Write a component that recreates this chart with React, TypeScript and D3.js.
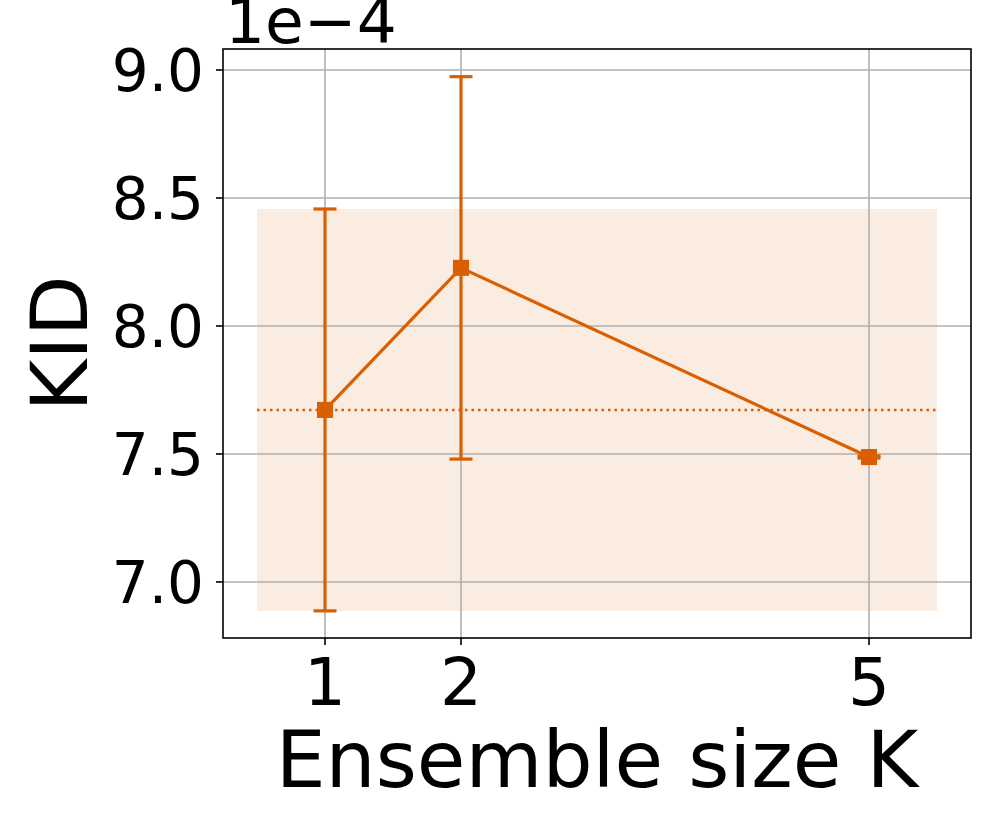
import React from "react";
import * as d3 from "d3";

const ensembleK = [1, 2, 5];
const kidMean = [7.672, 8.227, 7.488];
const kidErr = [0.785, 0.747, 0.004];
const yTicks = [7.0, 7.5, 8.0, 8.5, 9.0];
const xTicks = [1, 2, 5];
const bandRange = [0.5, 5.5];

const COLOR = "#d95f02";
const FONT = "DejaVu Sans, sans-serif";

export default function App() {
  const W = 996, H = 830;
  const left = 223, right = 971, top = 49, bottom = 638;
  const x = d3.scaleLinear().domain([0.25, 5.75]).range([left, right]);
  const y = d3.scaleLinear().domain([6.781, 9.082]).range([bottom, top]);

  const line = d3.line<number>()
    .x((_, i) => x(ensembleK[i]))
    .y((d) => y(d));

  const baseMean = kidMean[0];
  const baseErr = kidErr[0];
  const capHalf = 11.5;
  const ms = 16;

  return (
    <svg width={W} height={H} style={{ position: "absolute", left: 0, top: 0, background: "#fff" }}>
      <rect x={0} y={0} width={W} height={H} fill="#fff" />
      <rect
        x={x(bandRange[0])}
        y={y(baseMean + baseErr)}
        width={x(bandRange[1]) - x(bandRange[0])}
        height={y(baseMean - baseErr) - y(baseMean + baseErr)}
        fill={COLOR}
        fillOpacity={0.12}
      />
      {xTicks.map((t) => (
        <line key={"gx" + t} x1={x(t)} x2={x(t)} y1={top} y2={bottom} stroke="#b0b0b0" strokeWidth={1.6} />
      ))}
      {yTicks.map((t) => (
        <line key={"gy" + t} x1={left} x2={right} y1={y(t)} y2={y(t)} stroke="#b0b0b0" strokeWidth={1.6} />
      ))}
      <line
        x1={x(bandRange[0])}
        x2={x(bandRange[1])}
        y1={y(baseMean)}
        y2={y(baseMean)}
        stroke={COLOR}
        strokeWidth={2.5}
        strokeDasharray="2.5,4"
      />
      {ensembleK.map((k, i) => {
        const cx = x(k);
        const yt = y(kidMean[i] + kidErr[i]);
        const yb = y(kidMean[i] - kidErr[i]);
        return (
          <g key={"e" + k} stroke={COLOR} strokeWidth={3.2}>
            <line x1={cx} x2={cx} y1={yt} y2={yb} />
            <line x1={cx - capHalf} x2={cx + capHalf} y1={yt} y2={yt} />
            <line x1={cx - capHalf} x2={cx + capHalf} y1={yb} y2={yb} />
          </g>
        );
      })}
      <path d={line(kidMean) || ""} fill="none" stroke={COLOR} strokeWidth={3.2} />
      {ensembleK.map((k, i) => (
        <rect key={"m" + k} x={x(k) - ms / 2} y={y(kidMean[i]) - ms / 2} width={ms} height={ms} fill={COLOR} />
      ))}
      <rect x={left} y={top} width={right - left} height={bottom - top} fill="none" stroke="#000" strokeWidth={1.6} />
      {xTicks.map((t) => (
        <g key={"tx" + t}>
          <line x1={x(t)} x2={x(t)} y1={bottom} y2={bottom + 7} stroke="#000" strokeWidth={1.6} />
          <text x={x(t)} y={705} textAnchor="middle" fontFamily={FONT} fontSize={66} fill="#000">
            {String(t)}
          </text>
        </g>
      ))}
      {yTicks.map((t) => (
        <g key={"ty" + t}>
          <line x1={left - 7} x2={left} y1={y(t)} y2={y(t)} stroke="#000" strokeWidth={1.6} />
          <text x={204} y={y(t) + 21} textAnchor="end" fontFamily={FONT} fontSize={58} fill="#000">
            {d3.format(".1f")(t)}
          </text>
        </g>
      ))}
      <text x={225} y={43} fontFamily={FONT} fontSize={63} fill="#000">1e−4</text>
      <text x={(left + right) / 2} y={787} textAnchor="middle" fontFamily={FONT} fontSize={79} fill="#000">
        Ensemble size K
      </text>
      <text
        transform={`translate(87, ${(top + bottom) / 2}) rotate(-90)`}
        textAnchor="middle"
        fontFamily={FONT}
        fontSize={79}
        fill="#000"
      >
        KID
      </text>
    </svg>
  );
}
